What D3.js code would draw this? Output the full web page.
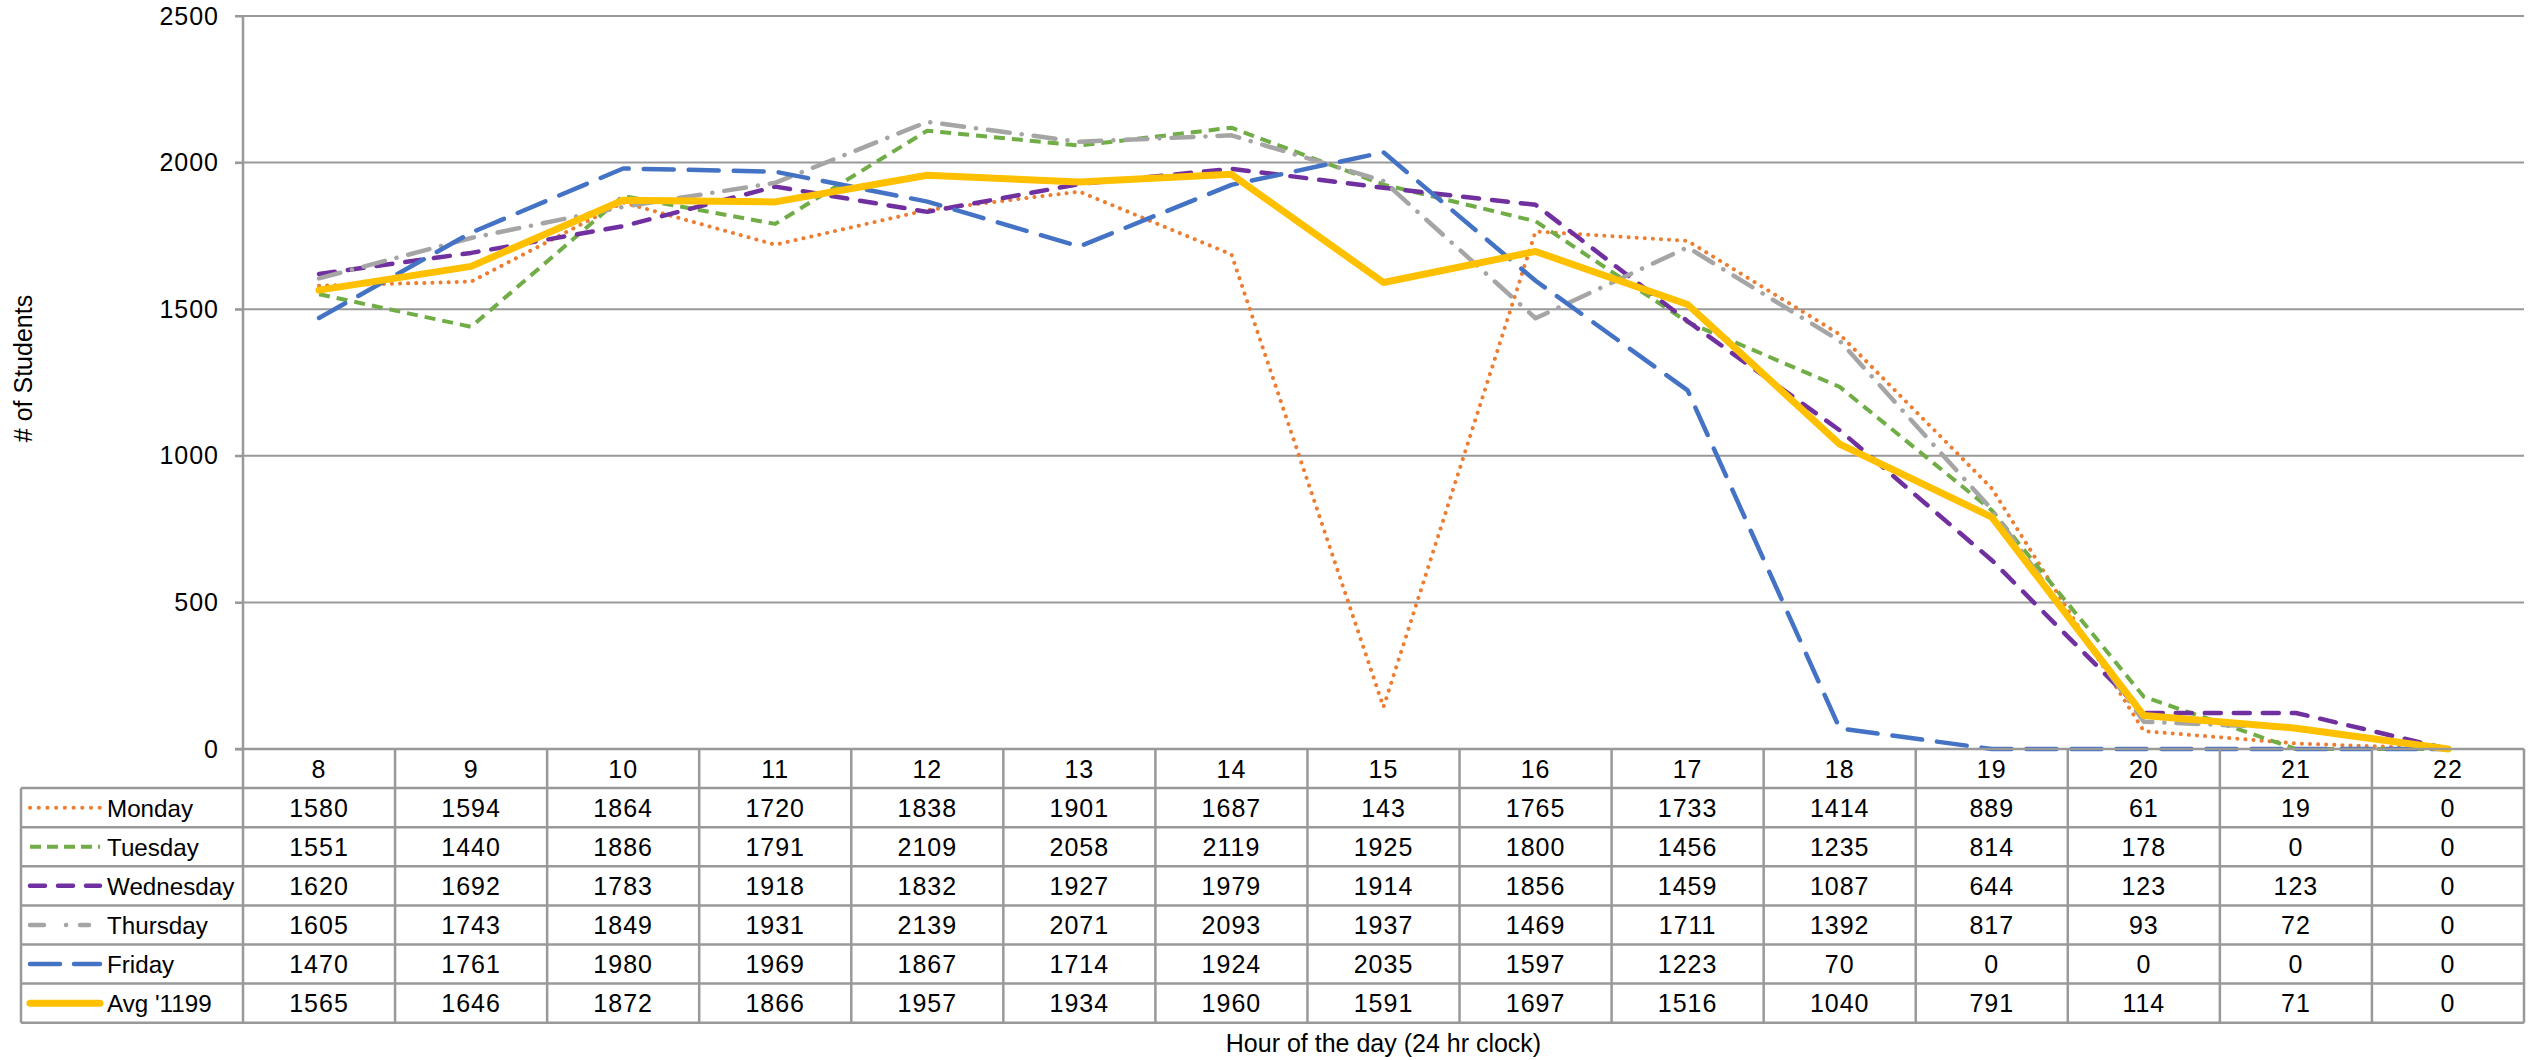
<!DOCTYPE html>
<html><head><meta charset="utf-8">
<script src="https://cdn.jsdelivr.net/npm/d3@7"></script>
<style>body{margin:0;background:#fff}svg{display:block}text{font-family:"Liberation Sans",Arial,sans-serif;fill:#000}</style>
</head><body>
<svg id="c" width="2542" height="1060"></svg>
<script>
const hours = [8,9,10,11,12,13,14,15,16,17,18,19,20,21,22];
const seriesNames = ["Monday","Tuesday","Wednesday","Thursday","Friday","Avg '1199"];
const monday    = [1580,1594,1864,1720,1838,1901,1687,143,1765,1733,1414,889,61,19,0];
const tuesday   = [1551,1440,1886,1791,2109,2058,2119,1925,1800,1456,1235,814,178,0,0];
const wednesday = [1620,1692,1783,1918,1832,1927,1979,1914,1856,1459,1087,644,123,123,0];
const thursday  = [1605,1743,1849,1931,2139,2071,2093,1937,1469,1711,1392,817,93,72,0];
const friday    = [1470,1761,1980,1969,1867,1714,1924,2035,1597,1223,70,0,0,0,0];
const avg       = [1565,1646,1872,1866,1957,1934,1960,1591,1697,1516,1040,791,114,71,0];
const yTicks = [0,500,1000,1500,2000,2500];
const yTitle = "# of Students";
const xTitle = "Hour of the day (24 hr clock)";

const values = [monday,tuesday,wednesday,thursday,friday,avg];
const styles = [
  {color:"#ED7D31", w:4, dash:"0.1 8", cap:"round", leg:"0.1 8.6"},
  {color:"#70AD47", w:4, dash:"11 7", cap:"butt", leg:"11 6"},
  {color:"#7030A0", w:4.5, dash:"16 13", cap:"round", leg:"15 13"},
  {color:"#A5A5A5", w:4.5, dash:"22 12 0.1 12", cap:"round", leg:"14 22 0.1 14"},
  {color:"#4472C4", w:4.5, dash:"30 15", cap:"round", leg:"30 14"},
  {color:"#FFC000", w:7, dash:null, cap:"round", leg:null}
];

const svg = d3.select("#c");
const L = 243, R = 2524, T = 16, B = 749;
const rowH = 39.1;
const legL = 21;
const grid = "#999";
const fs = 25;

const x = d3.scaleBand().domain(hours).range([L,R]).paddingInner(0).paddingOuter(0);
const y = d3.scaleLinear().domain([0,2500]).range([B,T]);

svg.append("g").selectAll("line").data(yTicks.filter(d=>d>0)).join("line")
  .attr("x1",L-8).attr("x2",R).attr("y1",d=>y(d)).attr("y2",d=>y(d))
  .attr("stroke",grid).attr("stroke-width",2);

const yAxis = d3.axisLeft(y).tickValues(yTicks).tickSize(8).tickPadding(16).tickFormat(d3.format("d"));
const ya = svg.append("g").attr("transform",`translate(${L},0)`).call(yAxis);
ya.select(".domain").attr("stroke",grid).attr("stroke-width",2.5).attr("d",`M0,${T}V${B}`);
ya.selectAll(".tick line").attr("stroke",grid).attr("stroke-width",2);
ya.selectAll(".tick text").attr("font-size",fs).attr("fill","#000").attr("letter-spacing",1)
  .style("font-family",'"Liberation Sans",Arial,sans-serif');

svg.append("text").attr("transform",`translate(32,${(T+B)/2-14}) rotate(-90)`)
  .attr("text-anchor","middle").attr("font-size",fs).text(yTitle);

const line = d3.line().x((d,i)=>x(hours[i])+x.bandwidth()/2).y(d=>y(d));
values.forEach((v,k)=>{
  const s = styles[k];
  svg.append("path").datum(v).attr("d",line).attr("fill","none")
    .attr("stroke",s.color).attr("stroke-width",s.w)
    .attr("stroke-dasharray",s.dash).attr("stroke-linecap",s.cap).attr("stroke-linejoin","round");
});

svg.append("line").attr("x1",L-8).attr("x2",R).attr("y1",B).attr("y2",B).attr("stroke",grid).attr("stroke-width",2.5);

const tb = svg.append("g");
const tableBottom = B + rowH*7;
for(let r=1;r<=7;r++){
  tb.append("line").attr("x1",legL).attr("x2",R).attr("y1",B+rowH*r).attr("y2",B+rowH*r)
    .attr("stroke",grid).attr("stroke-width",2.5);
}
hours.forEach((h,i)=>{
  tb.append("line").attr("x1",x(h)).attr("x2",x(h)).attr("y1",B).attr("y2",tableBottom).attr("stroke",grid).attr("stroke-width",2.5);
});
tb.append("line").attr("x1",R).attr("x2",R).attr("y1",B).attr("y2",tableBottom).attr("stroke",grid).attr("stroke-width",2.5);
tb.append("line").attr("x1",legL).attr("x2",legL).attr("y1",B+rowH).attr("y2",tableBottom).attr("stroke",grid).attr("stroke-width",2.5);

tb.selectAll("text.h").data(hours).join("text").attr("class","h")
  .attr("x",d=>x(d)+x.bandwidth()/2).attr("y",B+rowH/2+9)
  .attr("text-anchor","middle").attr("font-size",fs).attr("letter-spacing",1).text(d=>d);

values.forEach((v,k)=>{
  const cy = B + rowH*(k+1) + rowH/2;
  tb.selectAll("text.r"+k).data(v).join("text").attr("class","r"+k)
    .attr("x",(d,i)=>x(hours[i])+x.bandwidth()/2).attr("y",cy+9)
    .attr("text-anchor","middle").attr("font-size",fs).attr("letter-spacing",1).text(d=>d);
  const s = styles[k];
  tb.append("line").attr("x1",30).attr("x2",k===3?89:100).attr("y1",cy).attr("y2",cy)
    .attr("stroke",s.color).attr("stroke-width",s.w)
    .attr("stroke-dasharray",s.leg).attr("stroke-linecap",s.cap);
  tb.append("text").attr("x",107).attr("y",cy+9).attr("font-size",24.2).text(seriesNames[k]);
});

svg.append("text").attr("x",(L+R)/2).attr("y",1052).attr("text-anchor","middle").attr("font-size",fs).text(xTitle);
</script>
</body></html>
